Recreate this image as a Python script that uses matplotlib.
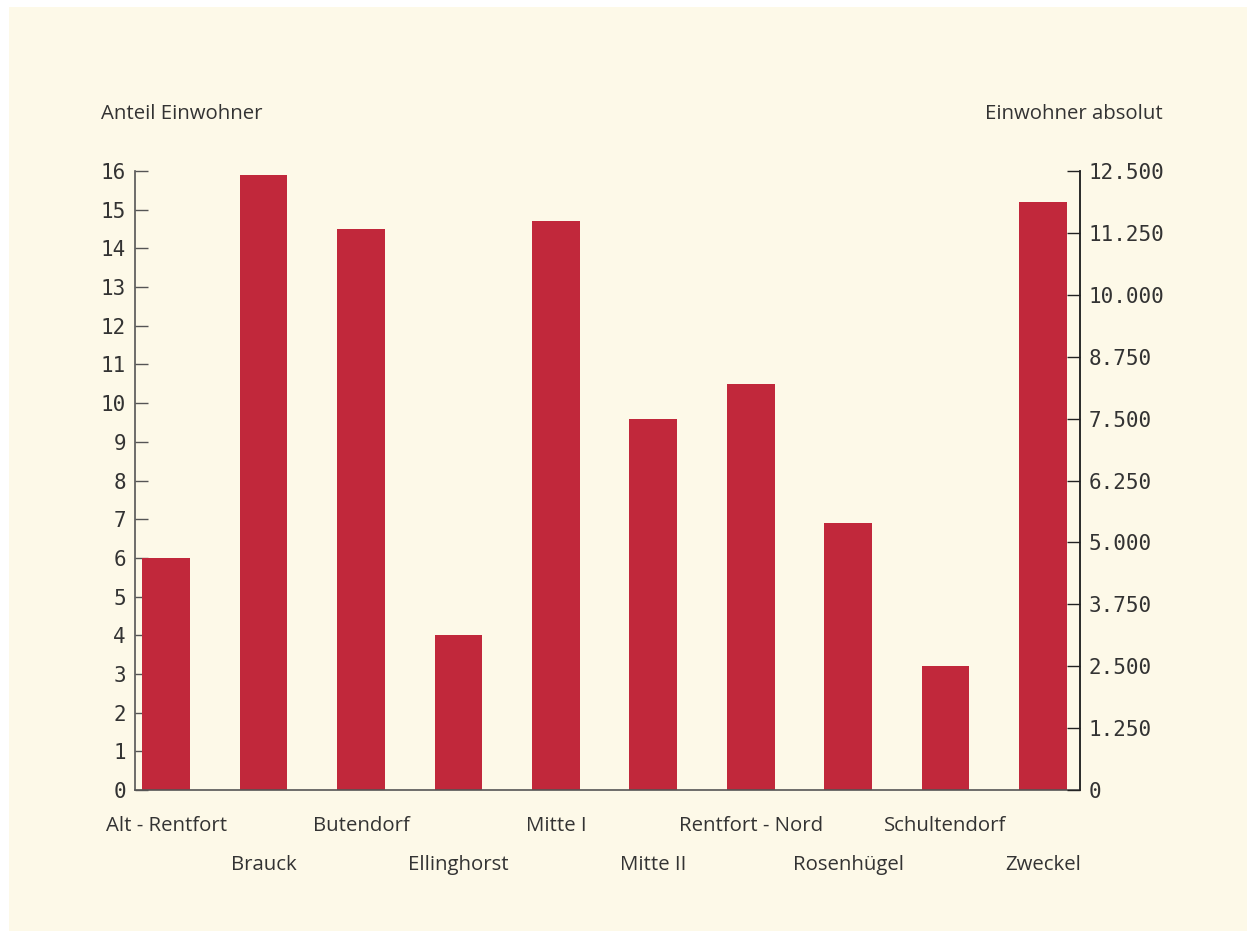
import matplotlib
matplotlib.use('Agg')
import matplotlib.pyplot as plt
from matplotlib.patches import Rectangle

# Stadtteile und Anteil der Einwohner (%)
districts = ['Alt - Rentfort', 'Brauck', 'Butendorf', 'Ellinghorst', 'Mitte I',
             'Mitte II', 'Rentfort - Nord', 'Rosenhügel', 'Schultendorf', 'Zweckel']
share = [6.0, 15.9, 14.5, 4.0, 14.7, 9.6, 10.5, 6.9, 3.2, 15.2]
left_ticks = list(range(0, 17))
right_ticks = [0, 1250, 2500, 3750, 5000, 6250, 7500, 8750, 10000, 11250, 12500]
right_labels = ['0', '1.250', '2.500', '3.750', '5.000', '6.250', '7.500',
                '8.750', '10.000', '11.250', '12.500']

bg = '#fdf9e8'
bar_color = '#c1283b'
text_color = '#333333'
spine_color = '#555555'

W, H = 1247, 931
fig = plt.figure(figsize=(W / 100, H / 100), dpi=100)
fig.patch.set_facecolor('white')
fig.patches.append(Rectangle((9 / W, 0), 1 - 9 / W, 1 - 7 / H, transform=fig.transFigure,
                             facecolor=bg, edgecolor='none', zorder=-10))

ax = fig.add_axes([135 / W, 1 - 790 / H, (1080 - 135) / W, (790 - 171) / H])
ax.set_facecolor(bg)
ax.patch.set_alpha(0)

x = range(len(districts))
ax.bar(x, share, width=0.49, color=bar_color, zorder=2)
ax.set_xlim(-0.32, 9.38)
ax.set_ylim(0, 16)

mono = 'DejaVu Sans Mono'
sans = 'Open Sans'

ax.set_yticks(left_ticks)
ax.set_yticklabels([str(t) for t in left_ticks], fontsize=15, family=mono, color=text_color)
ax.tick_params(axis='y', direction='in', length=9.5, width=1, color=spine_color, pad=6.5)
ax.set_xticks([])

ax.spines['top'].set_visible(False)
for s in ['left', 'bottom', 'right']:
    ax.spines[s].set_color(spine_color)
    ax.spines[s].set_linewidth(1.2)

ax2 = ax.twinx()
ax2.set_ylim(0, 12500)
ax2.set_yticks(right_ticks)
ax2.set_yticklabels(right_labels, fontsize=15, family=mono, color=text_color)
ax2.tick_params(axis='y', direction='in', length=9.5, width=1, color='#222222', pad=6)
for s in ['top', 'left', 'bottom']:
    ax2.spines[s].set_visible(False)
ax2.spines['right'].set_color('#222222')
ax2.spines['right'].set_linewidth(1.2)

# Stadtteil-Beschriftungen in zwei Reihen
for i, name in enumerate(districts):
    yoff = -0.058 if i % 2 == 0 else -0.121
    ax.text(i, yoff, name, transform=ax.get_xaxis_transform(), ha='center', va='center',
            fontsize=14.7, family=sans, color=text_color)

fig.text(101 / W, 1 - 114 / H, 'Anteil Einwohner', ha='left', va='center',
         fontsize=14.7, family=sans, color=text_color)
fig.text(1163 / W, 1 - 114 / H, 'Einwohner absolut', ha='right', va='center',
         fontsize=14.7, family=sans, color=text_color)

fig.savefig('out.png', dpi=100, facecolor=fig.get_facecolor())
